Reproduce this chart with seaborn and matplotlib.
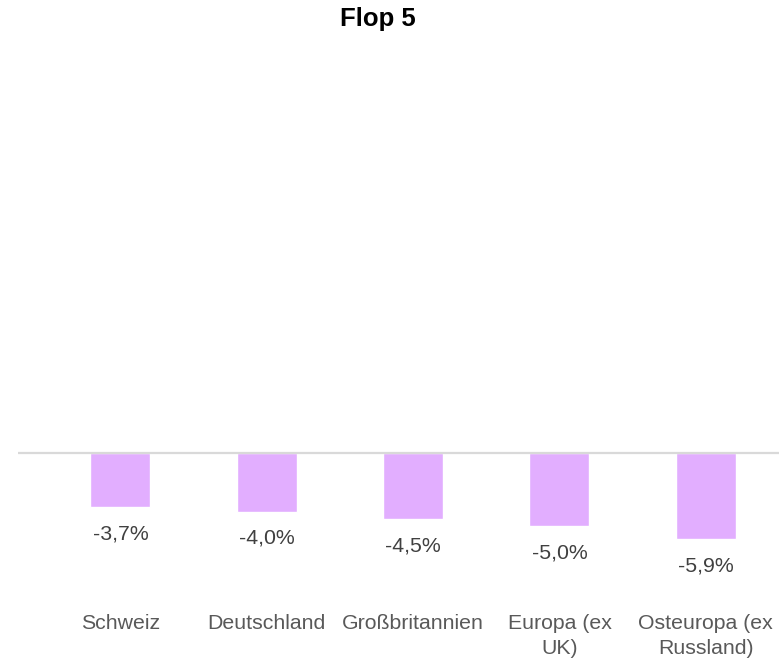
import matplotlib
matplotlib.use("Agg")
import matplotlib.pyplot as plt
import seaborn as sns
import pandas as pd

# data
categories = ["Schweiz", "Deutschland", "Großbritannien", "Europa (ex\nUK)", "Osteuropa (ex\nRussland)"]
values = [-3.7, -4.0, -4.5, -5.0, -5.9]
value_labels = ["-3,7%", "-4,0%", "-4,5%", "-5,0%", "-5,9%"]

df = pd.DataFrame({"land": categories, "perf": values})

sns.set_theme(style="white")
plt.rcParams["font.family"] = ["Liberation Sans", "DejaVu Sans"]

W, H = 784, 658
fig = plt.figure(figsize=(W / 100, H / 100), dpi=100)
ax = fig.add_axes([18 / W, (H - 600) / H, (779 - 18) / W, 560 / H])

sns.barplot(data=df, x="land", y="perf", color="#E2AEFF", saturation=1,
            width=0.41, ax=ax)

ax.set_xlim(-0.7, 4.5)
ax.set_ylim(-10.08, 28.4)
ax.axhline(0, color="#D9D9D9", lw=1.6, zorder=3)

for c in ax.containers:
    ax.bar_label(c, labels=value_labels, padding=12.5, fontsize=15.3, color="#404040")

ax.set_xlabel("")
ax.set_ylabel("")
ax.set_yticks([])
ax.set_xticks(range(len(categories)))
ax.set_xticklabels(categories, linespacing=1.38)
ax.tick_params(axis="x", length=0, pad=10, labelsize=15.3, labelcolor="#595959")
for s in ax.spines.values():
    s.set_visible(False)

fig.text(377.5 / W, 1 - 19 / H, "Flop 5", ha="center", va="center",
         fontsize=18.5, fontweight="bold", color="black")

fig.savefig("out.png", dpi=100)
